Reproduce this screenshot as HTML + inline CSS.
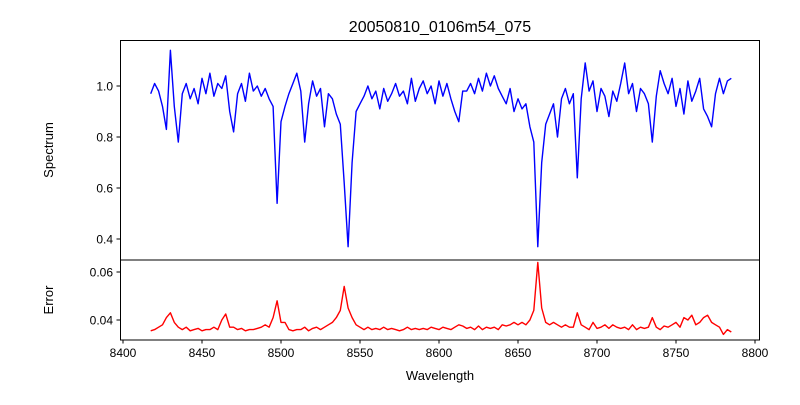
<!DOCTYPE html>
<html><head><meta charset="utf-8"><style>
body{margin:0;background:#fff}
svg text{font-family:"Liberation Sans",sans-serif;fill:#000}
</style></head><body>
<svg id="chart" width="800" height="400" xmlns="http://www.w3.org/2000/svg">
<rect width="800" height="400" fill="#fff"/>
<text x="440" y="32" font-size="16" text-anchor="middle">20050810_0106m54_075</text>
<text transform="translate(53,150) rotate(-90)" font-size="13" text-anchor="middle">Spectrum</text>
<text transform="translate(53,300) rotate(-90)" font-size="13" text-anchor="middle">Error</text>
<text x="440" y="380" font-size="13" text-anchor="middle">Wavelength</text>
<g id="marks"></g>
<rect x="120.5" y="40.5" width="639" height="219.5" fill="none" stroke="#000" stroke-width="1"/>
<rect x="120.5" y="260" width="639" height="80" fill="none" stroke="#000" stroke-width="1"/>
<g id="axes"></g>
</svg>
<script>
const wavelengths=[8417.5,8420,8422.5,8425,8427.5,8430,8432.5,8435,8437.5,8440,8442.5,8445,8447.5,8450,8452.5,8455,8457.5,8460,8462.5,8465,8467.5,8470,8472.5,8475,8477.5,8480,8482.5,8485,8487.5,8490,8492.5,8495,8497.5,8500,8502.5,8505,8507.5,8510,8512.5,8515,8517.5,8520,8522.5,8525,8527.5,8530,8532.5,8535,8537.5,8540,8542.5,8545,8547.5,8550,8552.5,8555,8557.5,8560,8562.5,8565,8567.5,8570,8572.5,8575,8577.5,8580,8582.5,8585,8587.5,8590,8592.5,8595,8597.5,8600,8602.5,8605,8607.5,8610,8612.5,8615,8617.5,8620,8622.5,8625,8627.5,8630,8632.5,8635,8637.5,8640,8642.5,8645,8647.5,8650,8652.5,8655,8657.5,8660,8662.5,8665,8667.5,8670,8672.5,8675,8677.5,8680,8682.5,8685,8687.5,8690,8692.5,8695,8697.5,8700,8702.5,8705,8707.5,8710,8712.5,8715,8717.5,8720,8722.5,8725,8727.5,8730,8732.5,8735,8737.5,8740,8742.5,8745,8747.5,8750,8752.5,8755,8757.5,8760,8762.5,8765,8767.5,8770,8772.5,8775,8777.5,8780,8782.5,8785];
const flux=[0.97,1.01,0.98,0.92,0.83,1.14,0.92,0.78,0.97,1.01,
0.95,0.99,0.93,1.03,0.97,1.05,0.96,1.01,0.99,1.04,
0.90,0.82,0.97,1.01,0.94,1.05,0.98,1.0,0.96,0.99,
0.95,0.92,0.54,0.86,0.92,0.97,1.01,1.05,0.98,0.78,
0.93,1.02,0.96,0.99,0.84,0.97,0.95,0.89,0.85,0.62,
0.37,0.70,0.90,0.93,0.96,1.0,0.95,0.98,0.91,0.99,
0.94,0.97,1.01,0.96,0.98,0.93,1.03,0.94,0.99,1.02,
0.97,1.0,0.93,1.02,0.96,1.01,0.95,0.90,0.86,0.98,
0.98,1.01,0.97,1.03,0.98,1.05,1.00,1.04,0.99,0.96,
0.93,0.99,0.90,0.95,0.91,0.93,0.84,0.78,0.37,0.70,
0.85,0.89,0.93,0.80,0.95,0.99,0.93,0.97,0.64,0.95,
1.09,0.98,1.02,0.90,0.99,0.96,0.88,0.98,0.94,1.01,
1.09,0.97,1.01,0.90,0.99,0.97,0.93,0.78,0.96,1.06,
1.01,0.97,1.03,0.92,0.99,0.89,1.02,0.94,0.98,1.03,
0.91,0.88,0.84,0.97,1.03,0.97,1.02,1.03];
const errors=[0.0355,0.036,0.037,0.038,0.041,0.043,0.039,0.037,0.036,0.037,
0.0355,0.036,0.0365,0.0355,0.036,0.036,0.037,0.036,0.040,0.0425,
0.037,0.037,0.036,0.0365,0.0355,0.036,0.036,0.0365,0.037,0.038,
0.037,0.041,0.048,0.039,0.039,0.036,0.0355,0.036,0.036,0.037,
0.0355,0.0365,0.037,0.036,0.037,0.038,0.039,0.041,0.044,0.054,
0.045,0.041,0.038,0.037,0.036,0.037,0.036,0.0365,0.036,0.037,
0.036,0.0365,0.036,0.0355,0.036,0.037,0.036,0.0365,0.036,0.0365,
0.036,0.037,0.0365,0.036,0.037,0.0365,0.036,0.037,0.038,0.0375,
0.0365,0.037,0.036,0.0375,0.036,0.037,0.0365,0.037,0.036,0.038,
0.0375,0.038,0.039,0.038,0.039,0.038,0.040,0.044,0.064,0.045,
0.039,0.038,0.039,0.038,0.037,0.038,0.037,0.037,0.043,0.038,
0.037,0.036,0.039,0.0365,0.037,0.038,0.0365,0.038,0.037,0.0365,
0.037,0.036,0.038,0.036,0.037,0.0365,0.037,0.041,0.037,0.036,
0.0375,0.037,0.038,0.039,0.037,0.041,0.040,0.042,0.038,0.039,
0.041,0.042,0.039,0.038,0.037,0.034,0.036,0.035];
const xTicks=[8400,8450,8500,8550,8600,8650,8700,8750,8800];
const fluxTicks=[0.4,0.6,0.8,1.0];
const errTicks=[0.04,0.06];

const NS='http://www.w3.org/2000/svg';
const xS=w=>123+(w-8400)*1.58;
const yF=v=>86+(1.0-v)*255;
const yE=v=>320-(v-0.04)*2400;
const marks=document.getElementById('marks');
const axes=document.getElementById('axes');
function mk(tag,attrs,parent){const e=document.createElementNS(NS,tag);for(const k in attrs)e.setAttribute(k,attrs[k]);parent.appendChild(e);return e;}

const fl=mk('polyline',{points:wavelengths.map((w,i)=>xS(w).toFixed(1)+','+yF(flux[i]).toFixed(1)).join(' '),fill:'none',stroke:'#0000ff','stroke-width':1.4,'stroke-linejoin':'round'},marks);


const el=mk('polyline',{points:wavelengths.map((w,i)=>xS(w).toFixed(1)+','+yE(errors[i]).toFixed(1)).join(' '),fill:'none',stroke:'#ff0000','stroke-width':1.4,'stroke-linejoin':'round'},marks);



xTicks.forEach(t=>{
  const x=xS(t);
  const l=mk('line',{x1:x,x2:x,y1:340,y2:343.5,stroke:'#000'},axes);
  
  
  const tx=mk('text',{x:x,y:357,'font-size':12,'text-anchor':'middle'},axes);
  tx.textContent=t;
  
  
});
fluxTicks.forEach(t=>{
  const y=yF(t);
  const l=mk('line',{x1:116.5,x2:120.5,y1:y,y2:y,stroke:'#000'},axes);
  
  
  const tx=mk('text',{x:113,y:y+4.5,'font-size':12,'text-anchor':'end'},axes);
  tx.textContent=t.toFixed(1);
  
  
});
errTicks.forEach(t=>{
  const y=yE(t);
  const l=mk('line',{x1:116.5,x2:120.5,y1:y,y2:y,stroke:'#000'},axes);
  
  
  const tx=mk('text',{x:113,y:y+4.5,'font-size':12,'text-anchor':'end'},axes);
  tx.textContent=t.toFixed(2);
  
  
});
</script>
</body></html>
